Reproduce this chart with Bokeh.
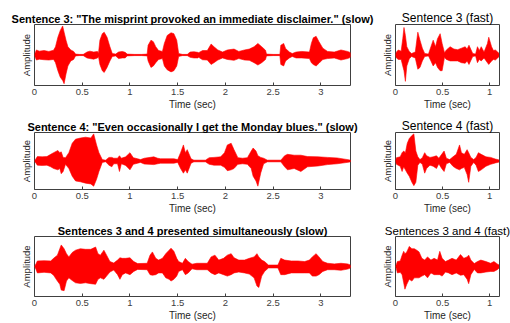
from bokeh.plotting import figure
from bokeh.layouts import column, row
from bokeh.models import Range1d, FixedTicker, NumeralTickFormatter
from bokeh.embed import file_html
from bokeh.resources import INLINE

# ---------------- data (envelope of each waveform, normalised amplitude) -------------
s3_slow_t = [0.00, 0.02, 0.05, 0.10, 0.15, 0.20, 0.22, 0.245, 0.27, 0.295, 0.31, 0.33, 0.35, 0.38, 0.41,
             0.43, 0.47, 0.51, 0.55, 0.58, 0.62, 0.66, 0.67, 0.685, 0.71, 0.73, 0.76, 0.79, 0.815, 0.85,
             0.88, 0.92, 0.95, 0.97, 1.05, 1.12, 1.18, 1.19, 1.22, 1.245, 1.27, 1.30, 1.34, 1.36, 1.39,
             1.43, 1.46, 1.49, 1.51, 1.55, 1.60, 1.63, 1.67, 1.71, 1.72, 1.76, 1.81, 1.85, 1.88, 1.92,
             1.97, 2.02, 2.09, 2.14, 2.20, 2.25, 2.30, 2.34, 2.38, 2.42, 2.43, 2.50, 2.57, 2.58, 2.61,
             2.63, 2.67, 2.70, 2.74, 2.80, 2.88, 2.90, 2.92, 2.95, 2.98, 3.02, 3.07, 3.14, 3.21, 3.28,
             3.31, 3.32]
s3_slow_up = [0.02, 0.17, 0.13, 0.15, 0.12, 0.16, 0.28, 0.60, 0.83, 0.98, 0.77, 0.50, 0.28, 0.17, 0.12,
              0.03, 0.02, 0.02, 0.10, 0.13, 0.10, 0.12, 0.05, 0.50, 0.72, 0.77, 0.60, 0.28, 0.05, 0.03,
              0.10, 0.12, 0.09, 0.03, 0.02, 0.02, 0.03, 0.33, 0.50, 0.45, 0.28, 0.15, 0.12, 0.39, 0.66,
              0.75, 0.72, 0.50, 0.05, 0.02, 0.02, 0.10, 0.11, 0.09, 0.08, 0.15, 0.15, 0.37, 0.28, 0.17,
              0.10, 0.17, 0.20, 0.12, 0.17, 0.20, 0.28, 0.39, 0.28, 0.16, 0.03, 0.02, 0.02, 0.33, 0.39,
              0.22, 0.10, 0.05, 0.10, 0.12, 0.10, 0.39, 0.58, 0.63, 0.45, 0.23, 0.12, 0.10, 0.17, 0.12,
              0.08, 0.02]
s3_slow_lo = [-0.02, -0.17, -0.14, -0.16, -0.17, -0.15, -0.26, -0.53, -0.75, -0.86, -0.97, -0.64, -0.37, -0.20, -0.15,
              -0.03, -0.02, -0.02, -0.10, -0.12, -0.14, -0.10, -0.05, -0.32, -0.53, -0.59, -0.42, -0.20, -0.05, -0.03,
              -0.12, -0.10, -0.10, -0.03, -0.02, -0.02, -0.03, -0.20, -0.42, -0.37, -0.26, -0.15, -0.12, -0.37, -0.50,
              -0.57, -0.53, -0.37, -0.05, -0.02, -0.02, -0.08, -0.10, -0.10, -0.08, -0.16, -0.17, -0.32, -0.26, -0.17,
              -0.10, -0.15, -0.18, -0.12, -0.17, -0.18, -0.26, -0.34, -0.26, -0.15, -0.03, -0.02, -0.02, -0.32, -0.37,
              -0.20, -0.10, -0.05, -0.10, -0.10, -0.12, -0.26, -0.32, -0.37, -0.28, -0.15, -0.12, -0.10, -0.17, -0.12,
              -0.08, -0.02]

s3_fast_t = [0.00, 0.01, 0.03, 0.06, 0.077, 0.09, 0.105, 0.12, 0.146, 0.17, 0.21, 0.237, 0.26, 0.285, 0.31,
             0.35, 0.376, 0.40, 0.425, 0.446, 0.474, 0.495, 0.52, 0.54, 0.58, 0.62, 0.66, 0.70, 0.74, 0.76,
             0.78, 0.82, 0.85, 0.87, 0.89, 0.91, 0.94, 0.976, 0.99, 1.02, 1.04, 1.06, 1.085, 1.10]
s3_fast_up = [0.02, 0.10, 0.17, 0.13, 0.55, 0.93, 0.66, 0.28, 0.12, 0.05, 0.10, 0.77, 0.50, 0.23, 0.05,
              0.03, 0.28, 0.50, 0.28, 0.55, 0.72, 0.39, 0.08, 0.17, 0.28, 0.20, 0.18, 0.23, 0.28, 0.20,
              0.33, 0.05, 0.03, 0.28, 0.15, 0.28, 0.10, 0.39, 0.60, 0.28, 0.15, 0.17, 0.10, 0.05]
s3_fast_lo = [-0.02, -0.10, -0.15, -0.15, -0.37, -0.53, -0.89, -0.37, -0.13, -0.05, -0.10, -0.48, -0.42, -0.20, -0.05,
              -0.03, -0.20, -0.37, -0.26, -0.42, -0.53, -0.53, -0.08, -0.15, -0.20, -0.20, -0.20, -0.26, -0.28, -0.20,
              -0.32, -0.05, -0.03, -0.26, -0.15, -0.20, -0.10, -0.26, -0.32, -0.20, -0.15, -0.17, -0.10, -0.05]

s4_slow_t = [0.00, 0.01, 0.03, 0.08, 0.13, 0.17, 0.20, 0.245, 0.265, 0.28, 0.30, 0.325, 0.36, 0.395, 0.43,
             0.48, 0.535, 0.59, 0.62, 0.65, 0.675, 0.71, 0.745, 0.78, 0.81, 0.83, 0.87, 0.89, 0.91, 0.955,
             1.00, 1.035, 1.08, 1.11, 1.15, 1.25, 1.29, 1.32, 1.46, 1.50, 1.53, 1.56, 1.58, 1.60, 1.64,
             1.67, 1.79, 1.83, 1.88, 1.95, 1.99, 2.02, 2.06, 2.09, 2.13, 2.18, 2.23, 2.27, 2.29, 2.32,
             2.34, 2.37, 2.40, 2.44, 2.58, 2.62, 2.65, 2.72, 2.79, 2.86, 2.97, 3.07, 3.17, 3.30, 3.32]
s4_slow_up = [0.02, 0.05, 0.16, 0.15, 0.16, 0.24, 0.30, 0.38, 0.30, 0.33, 0.13, 0.12, 0.30, 0.64, 0.79,
              0.83, 0.86, 0.83, 0.98, 0.58, 0.30, 0.05, 0.03, 0.13, 0.13, 0.10, 0.10, 0.19, 0.10, 0.15,
              0.30, 0.12, 0.08, 0.05, 0.10, 0.15, 0.10, 0.08, 0.08, 0.05, 0.30, 0.58, 0.30, 0.41, 0.08,
              0.03, 0.03, 0.12, 0.13, 0.15, 0.30, 0.58, 0.64, 0.41, 0.12, 0.10, 0.12, 0.36, 0.47, 0.36,
              0.19, 0.13, 0.10, 0.03, 0.03, 0.19, 0.24, 0.21, 0.21, 0.16, 0.15, 0.13, 0.11, 0.04, 0.02]
s4_slow_lo = [-0.02, -0.05, -0.15, -0.16, -0.15, -0.21, -0.27, -0.32, -0.27, -0.46, -0.38, -0.12, -0.27, -0.55, -0.72,
              -0.75, -0.80, -0.83, -0.91, -0.66, -0.38, -0.05, -0.03, -0.15, -0.21, -0.10, -0.10, -0.38, -0.10, -0.16,
              -0.32, -0.12, -0.08, -0.05, -0.11, -0.13, -0.10, -0.08, -0.08, -0.05, -0.27, -0.44, -0.32, -0.44, -0.08,
              -0.03, -0.03, -0.12, -0.15, -0.15, -0.23, -0.35, -0.32, -0.27, -0.12, -0.10, -0.12, -0.27, -0.55, -0.72,
              -0.91, -0.43, -0.10, -0.03, -0.03, -0.21, -0.32, -0.27, -0.38, -0.21, -0.18, -0.13, -0.10, -0.04, -0.02]

s4_fast_t = [0.00, 0.01, 0.05, 0.07, 0.087, 0.105, 0.125, 0.146, 0.174, 0.195, 0.216, 0.237, 0.26, 0.285, 0.31,
             0.33, 0.366, 0.40, 0.435, 0.46, 0.49, 0.516, 0.54, 0.575, 0.61, 0.645, 0.68, 0.70, 0.73, 0.76,
             0.777, 0.80, 0.83, 0.855, 0.88, 0.91, 0.96, 1.01, 1.06, 1.10]
s4_fast_up = [0.02, 0.12, 0.15, 0.30, 0.36, 0.30, 0.64, 0.81, 0.92, 0.98, 0.36, 0.15, 0.05, 0.12, 0.30,
              0.19, 0.13, 0.15, 0.19, 0.10, 0.24, 0.36, 0.10, 0.05, 0.15, 0.24, 0.58, 0.30, 0.24, 0.41,
              0.30, 0.13, 0.05, 0.13, 0.30, 0.24, 0.15, 0.13, 0.07, 0.04]
s4_fast_lo = [-0.02, -0.12, -0.19, -0.38, -0.21, -0.32, -0.44, -0.55, -0.77, -0.89, -0.77, -0.15, -0.05, -0.12, -0.44,
              -0.27, -0.15, -0.19, -0.27, -0.10, -0.27, -0.38, -0.10, -0.05, -0.19, -0.27, -0.32, -0.27, -0.23, -0.49,
              -0.77, -0.19, -0.05, -0.15, -0.38, -0.32, -0.19, -0.12, -0.07, -0.04]

mix_slow_t = [0.00, 0.01, 0.03, 0.10, 0.17, 0.20, 0.24, 0.265, 0.28, 0.31, 0.335, 0.36, 0.395, 0.43, 0.48,
              0.535, 0.59, 0.64, 0.665, 0.69, 0.727, 0.755, 0.79, 0.83, 0.87, 0.895, 0.92, 0.955, 1.00, 1.04,
              1.08, 1.18, 1.21, 1.235, 1.27, 1.30, 1.34, 1.375, 1.41, 1.43, 1.46, 1.49, 1.51, 1.55, 1.58,
              1.61, 1.65, 1.70, 1.81, 1.85, 1.89, 1.93, 1.98, 2.02, 2.06, 2.09, 2.14, 2.20, 2.25, 2.30,
              2.33, 2.35, 2.38, 2.41, 2.45, 2.55, 2.58, 2.62, 2.69, 2.76, 2.83, 2.88, 2.91, 2.95, 2.98,
              3.02, 3.07, 3.14, 3.21, 3.28, 3.31, 3.32]
mix_slow_up = [0.02, 0.05, 0.19, 0.20, 0.19, 0.28, 0.39, 0.61, 0.74, 0.61, 0.44, 0.33, 0.48, 0.56, 0.61,
               0.59, 0.59, 0.67, 0.44, 0.39, 0.56, 0.39, 0.17, 0.12, 0.22, 0.30, 0.28, 0.28, 0.30, 0.17,
               0.10, 0.11, 0.39, 0.50, 0.28, 0.22, 0.28, 0.44, 0.56, 0.63, 0.52, 0.28, 0.17, 0.11, 0.28,
               0.17, 0.08, 0.11, 0.11, 0.33, 0.39, 0.22, 0.28, 0.39, 0.44, 0.30, 0.22, 0.22, 0.28, 0.33,
               0.44, 0.33, 0.22, 0.17, 0.05, 0.05, 0.28, 0.22, 0.19, 0.19, 0.17, 0.22, 0.33, 0.44, 0.33,
               0.17, 0.11, 0.09, 0.11, 0.09, 0.05, 0.02]
mix_slow_lo = [-0.02, -0.05, -0.22, -0.20, -0.22, -0.30, -0.50, -0.61, -0.81, -0.83, -0.50, -0.39, -0.48, -0.56, -0.58,
               -0.56, -0.59, -0.61, -0.44, -0.39, -0.44, -0.33, -0.19, -0.12, -0.28, -0.44, -0.28, -0.22, -0.28, -0.17,
               -0.10, -0.11, -0.28, -0.30, -0.28, -0.22, -0.22, -0.39, -0.44, -0.50, -0.44, -0.33, -0.17, -0.11, -0.28,
               -0.22, -0.08, -0.11, -0.11, -0.22, -0.28, -0.22, -0.28, -0.33, -0.28, -0.22, -0.19, -0.22, -0.26, -0.39,
               -0.67, -0.72, -0.33, -0.17, -0.05, -0.05, -0.28, -0.28, -0.22, -0.22, -0.22, -0.22, -0.33, -0.33, -0.28,
               -0.17, -0.11, -0.11, -0.13, -0.09, -0.05, -0.02]

mix_fast_t = [0.00, 0.007, 0.02, 0.05, 0.07, 0.087, 0.10, 0.12, 0.146, 0.174, 0.20, 0.226, 0.25, 0.28, 0.31,
              0.34, 0.376, 0.41, 0.446, 0.47, 0.495, 0.53, 0.564, 0.60, 0.645, 0.69, 0.725, 0.76, 0.777, 0.80,
              0.836, 0.87, 0.906, 0.96, 1.01, 1.045, 1.08, 1.10]
mix_fast_up = [0.02, 0.05, 0.17, 0.19, 0.39, 0.52, 0.44, 0.50, 0.69, 0.61, 0.61, 0.56, 0.50, 0.28, 0.22,
               0.33, 0.22, 0.28, 0.22, 0.52, 0.28, 0.17, 0.22, 0.28, 0.22, 0.41, 0.28, 0.33, 0.39, 0.22,
               0.10, 0.17, 0.22, 0.17, 0.11, 0.17, 0.09, 0.05]
mix_fast_lo = [-0.02, -0.05, -0.22, -0.20, -0.28, -0.56, -0.78, -0.61, -0.44, -0.50, -0.39, -0.39, -0.39, -0.33, -0.28,
               -0.39, -0.22, -0.28, -0.28, -0.28, -0.33, -0.19, -0.22, -0.28, -0.22, -0.30, -0.28, -0.44, -0.59, -0.28,
               -0.10, -0.22, -0.22, -0.19, -0.17, -0.17, -0.11, -0.05]

slow_ticks = [0, 0.5, 1, 1.5, 2, 2.5, 3]
slow_tick_labels = ["0", "0.5", "1", "1.5", "2", "2.5", "3"]
fast_ticks = [0, 0.5, 1]
fast_tick_labels = ["0", "0.5", "1"]

titles = [
    'Sentence 3: "The misprint provoked an immediate disclaimer." (slow)',
    'Sentence 3 (fast)',
    'Sentence 4: "Even occasionally I get the Monday blues." (slow)',
    'Sentence 4 (fast)',
    'Sentences 3 and 4 presented simultaneously (slow)',
    'Sentences 3 and 4 (fast)',
]

FONT = "Liberation Sans"
RED = "#ff0000"
FRAME = "#404040"


def panel(t, up, lo, xmax, ticks, labels, title, slow, height, top, bottom, title_size="12px"):
    if slow:
        width, bl, br = 378, 34, 28
    else:
        width, bl, br = 132, 15, 11
    p = figure(width=width, height=height, output_backend="svg", toolbar_location=None,
               x_range=Range1d(0, xmax), y_range=Range1d(-1.03, 1.03),
               min_border_left=bl, min_border_right=br,
               min_border_top=top, min_border_bottom=bottom,
               title=title)
    p.title.align = "center"
    p.title.text_font = FONT
    p.title.text_color = "#000000"
    p.title.standoff = 0
    if slow:
        p.title.text_font_size = "11px"
        p.title.text_font_style = "bold"
    else:
        p.title.text_font_size = title_size
        p.title.text_font_style = "normal"
    p.background_fill_color = "white"
    p.border_fill_color = "white"
    p.outline_line_color = FRAME
    p.outline_line_width = 1
    p.xgrid.visible = False
    p.ygrid.visible = False

    xa = p.xaxis[0]
    xa.ticker = FixedTicker(ticks=ticks)
    xa.formatter = NumeralTickFormatter(format="0.[0]")
    xa.major_label_overrides = {tk: lb for tk, lb in zip(ticks, labels)}
    xa.axis_label = "Time (sec)"
    xa.axis_label_text_font = FONT
    xa.axis_label_text_font_size = "10px"
    xa.axis_label_text_font_style = "normal"
    xa.axis_label_text_color = "#262626"
    xa.axis_label_standoff = 1
    xa.major_label_text_font = FONT
    xa.major_label_text_font_size = "9.5px"
    xa.major_label_text_color = "#404040"
    xa.major_label_standoff = 3
    xa.major_tick_in = 3
    xa.major_tick_out = 0
    xa.major_tick_line_color = FRAME
    xa.minor_tick_line_color = None
    xa.axis_line_color = None

    ya = p.yaxis[0]
    ya.ticker = FixedTicker(ticks=[])
    ya.axis_label = "Amplitude"
    ya.axis_label_text_font = FONT
    ya.axis_label_text_font_size = "9.5px"
    ya.axis_label_text_font_style = "normal"
    ya.axis_label_text_color = "#262626"
    ya.axis_label_standoff = 3
    ya.major_label_standoff = 0
    ya.major_tick_in = 0
    ya.major_tick_out = 0
    ya.minor_tick_line_color = None
    ya.major_tick_line_color = None
    ya.axis_line_color = None

    p.varea(x=t, y1=lo, y2=up, fill_color=RED, fill_alpha=1.0)
    p.line(x=t, y=up, line_color=RED, line_width=0.6)
    p.line(x=t, y=lo, line_color=RED, line_width=0.6)
    p.line(x=[t[0], t[-1]], y=[0, 0], line_color=RED, line_width=1)
    return p


p1 = panel(s3_slow_t, s3_slow_up, s3_slow_lo, 3.31, slow_ticks, slow_tick_labels, titles[0], True, 112, 24, 27)
p2 = panel(s3_fast_t, s3_fast_up, s3_fast_lo, 1.104, fast_ticks, fast_tick_labels, titles[1], False, 112, 24, 27)
p3 = panel(s4_slow_t, s4_slow_up, s4_slow_lo, 3.31, slow_ticks, slow_tick_labels, titles[2], True, 104, 20, 27)
p4 = panel(s4_fast_t, s4_fast_up, s4_fast_lo, 1.104, fast_ticks, fast_tick_labels, titles[3], False, 104, 20, 27)
p5 = panel(mix_slow_t, mix_slow_up, mix_slow_lo, 3.31, slow_ticks, slow_tick_labels, titles[4], True, 107, 20, 27)
p6 = panel(mix_fast_t, mix_fast_up, mix_fast_lo, 1.104, fast_ticks, fast_tick_labels, titles[5], False, 107, 20, 27,
           title_size="11.5px")

layout = column(row(p1, p2), row(p3, p4), row(p5, p6))

open("out.html", "w").write(file_html(layout, INLINE))
